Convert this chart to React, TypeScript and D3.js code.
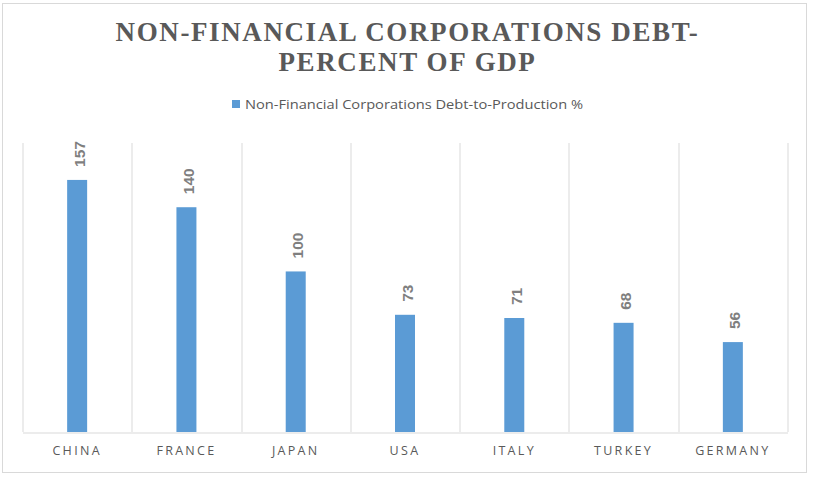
import { useEffect, useRef } from 'react';
import * as d3 from 'd3';

const countries = ['CHINA', 'FRANCE', 'JAPAN', 'USA', 'ITALY', 'TURKEY', 'GERMANY'];
const debtPct = [157, 140, 100, 73, 71, 68, 56];
const seriesName = 'Non-Financial Corporations Debt-to-Production %';
const titleLines = ['NON-FINANCIAL CORPORATIONS DEBT-', 'PERCENT OF GDP'];

const W = 815;
const H = 480;

export default function App() {
  const svgRef = useRef<SVGSVGElement>(null);

  useEffect(() => {
    if (!svgRef.current) return;
    const svg = d3.select(svgRef.current);
    svg.selectAll('*').remove();

    const margin = { top: 143, right: W - 787.5, bottom: H - 432, left: 22.5 };
    const iW = W - margin.left - margin.right;
    const iH = H - margin.top - margin.bottom;

    svg.append('rect').attr('width', W).attr('height', H).attr('fill', '#fff');
    svg
      .append('rect')
      .attr('x', 2.5)
      .attr('y', 3.5)
      .attr('width', 804)
      .attr('height', 469)
      .attr('fill', 'none')
      .attr('stroke', '#d9d9d9');

    // title
    svg
      .append('g')
      .selectAll('text')
      .data(titleLines)
      .join('text')
      .attr('x', W / 2)
      .attr('y', (_, i) => 41 + i * 30)
      .attr('text-anchor', 'middle')
      .attr('font-family', '"Liberation Serif", "Times New Roman", serif')
      .attr('font-weight', 'bold')
      .attr('font-size', 27)
      .attr('letter-spacing', 1.6)
      .attr('fill', '#595959')
      .text((d) => d);

    // legend
    const lg = svg.append('g').attr('transform', 'translate(232,100)');
    lg.append('rect').attr('width', 8).attr('height', 8).attr('fill', '#5b9bd5');
    lg.append('text')
      .attr('x', 13)
      .attr('y', 8.5)
      .attr('font-family', '"Open Sans", sans-serif')
      .attr('font-size', 13.5)
      .attr('fill', '#595959')
      .attr('textLength', 338)
      .attr('lengthAdjust', 'spacingAndGlyphs')
      .text(seriesName);

    const x = d3.scaleBand().domain(countries).range([0, iW]).padding(0);
    const y = d3.scaleLinear().domain([0, 180]).range([iH, 0]);

    const g = svg
      .append('g')
      .attr('transform', `translate(${margin.left},${margin.top})`);

    // vertical category gridlines
    const bounds = countries.map((c) => x(c)!).concat([iW]);
    g.append('g')
      .selectAll('line')
      .data(bounds)
      .join('line')
      .attr('x1', (d) => Math.round(d) + 0.5)
      .attr('x2', (d) => Math.round(d) + 0.5)
      .attr('y1', 0)
      .attr('y2', iH)
      .attr('stroke', '#d9d9d9');

    // axis
    const xAxis = g
      .append('g')
      .attr('transform', `translate(0,${iH + 0.5})`)
      .call(d3.axisBottom(x).tickSize(0).tickPadding(14));
    xAxis.select('.domain').attr('stroke', '#d9d9d9');
    xAxis
      .selectAll('text')
      .attr('font-family', '"Open Sans", sans-serif')
      .attr('font-size', 12.5)
      .attr('letter-spacing', 2.3)
      .attr('fill', '#595959');

    const barW = 20;
    const rows = countries.map((c, i) => ({ c, v: debtPct[i] }));

    g.append('g')
      .selectAll('rect')
      .data(rows)
      .join('rect')
      .attr('x', (d) => x(d.c)! + x.bandwidth() / 2 - barW / 2)
      .attr('width', barW)
      .attr('y', (d) => y(d.v))
      .attr('height', (d) => iH - y(d.v))
      .attr('fill', '#5b9bd5');

    g.append('g')
      .selectAll('text')
      .data(rows)
      .join('text')
      .attr(
        'transform',
        (d) => `translate(${x(d.c)! + x.bandwidth() / 2 + 7.5},${y(d.v) - 13}) rotate(-90)`
      )
      .attr('font-family', '"Liberation Sans", Arial, sans-serif')
      .attr('font-weight', 'bold')
      .attr('font-size', 15.5)
      .attr('fill', '#7f7f7f')
      .text((d) => d.v);
  }, []);

  return (
    <svg
      ref={svgRef}
      width={W}
      height={H}
      viewBox={`0 0 ${W} ${H}`}
      style={{ position: 'absolute', left: 0, top: 0, display: 'block' }}
    />
  );
}
